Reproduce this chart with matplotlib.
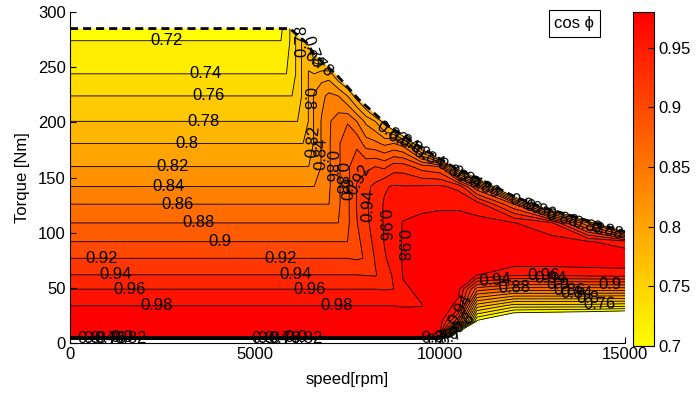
import numpy as np
import matplotlib
matplotlib.use("Agg")
import matplotlib.pyplot as plt
from matplotlib.patches import Polygon
from matplotlib.colors import Normalize
from matplotlib.cm import ScalarMappable

plt.rcParams['font.family'] = ['Liberation Sans', 'DejaVu Sans']

# ---------------- data ----------------
speed_rpm = [0, 5700, 5850, 6000, 6150, 6300, 6450, 6600, 6800, 7000, 7250, 7500, 7750,
             8000, 8250, 8500, 8750, 9000, 9500, 10000, 10500, 11000, 12000, 13000, 14000, 15000]
torque_nm = [0, 3.5, 6, 12, 20, 34, 49, 62, 77, 92, 109, 126, 142, 160, 181, 201, 224, 244, 274, 290]

# cos(phi) map: one row per torque value, one column per speed value
cos_phi = [
    [0.45]*19 + [0.40, 0.30, 0.25, 0.25, 0.25, 0.25, 0.25],
    [0.70]*19 + [0.69, 0.45, 0.35, 0.30, 0.30, 0.30, 0.30],
    [0.985]*19 + [0.95, 0.55, 0.40, 0.38, 0.37, 0.36, 0.35],
    [0.99]*19 + [0.99, 0.73, 0.55, 0.50, 0.49, 0.48, 0.47],
    [0.99]*19 + [0.99, 0.90, 0.695, 0.64, 0.63, 0.62, 0.61],
    [0.98]*17 + [0.979, 0.9795, 0.99, 0.975, 0.79, 0.75, 0.75, 0.75, 0.745],
    [0.96]*15 + [0.959, 0.96, 0.978, 0.983, 0.99, 0.985, 0.89, 0.87, 0.87, 0.87, 0.87],
    [0.94]*13 + [0.939, 0.938, 0.95, 0.963, 0.981, 0.985, 0.99, 0.99, 0.981, 0.965, 0.965, 0.968, 0.97],
    [0.92]*12 + [0.918, 0.921, 0.942, 0.958, 0.968, 0.982, 0.986, 0.99, 0.99, 0.99, 0.995, 0.995, 0.995, 0.995],
    [0.90]*12 + [0.915, 0.928, 0.947, 0.961, 0.971, 0.982, 0.986, 0.99, 0.99, 0.99, 0.99, 0.988, 0.982, 0.97],
    [0.88]*11 + [0.8954, 0.919, 0.935, 0.95, 0.962, 0.9715, 0.981, 0.985, 0.99, 0.99, 0.985, 0.981, 0.965, 0.86, 0.70],
    [0.86]*10 + [0.8763, 0.8954, 0.921, 0.9367, 0.95, 0.962, 0.97, 0.972, 0.975, 0.975, 0.975, 0.972, 0.90, 0.74, 0.60, 0.50],
    [0.84]*8 + [0.8415, 0.8576, 0.8763, 0.8954, 0.921, 0.935, 0.945, 0.958, 0.962, 0.961, 0.962, 0.963, 0.955, 0.88, 0.67, 0.50, 0.50, 0.50],
    [0.82]*7 + [0.823, 0.8415, 0.8576, 0.8763, 0.8954, 0.915, 0.915, 0.92, 0.915, 0.93, 0.93, 0.91, 0.90, 0.77, 0.60, 0.50, 0.50, 0.50, 0.50],
    [0.80]*6 + [0.801, 0.823, 0.8415, 0.8576, 0.8763, 0.8954, 0.895, 0.87, 0.865, 0.855, 0.86, 0.85, 0.76, 0.60, 0.50, 0.50, 0.50, 0.50, 0.50, 0.50],
    [0.78]*5 + [0.785, 0.801, 0.823, 0.8415, 0.8576, 0.87, 0.878, 0.86, 0.835, 0.82, 0.79, 0.76, 0.70, 0.60] + [0.50]*7,
    [0.76]*4 + [0.7667, 0.785, 0.801, 0.823, 0.835, 0.845, 0.84, 0.82, 0.79, 0.76, 0.70, 0.60, 0.60, 0.60] + [0.50]*8,
    [0.74]*3 + [0.7467, 0.7667, 0.785, 0.801, 0.80, 0.81, 0.81, 0.78, 0.76, 0.65, 0.60, 0.60, 0.60, 0.60, 0.60] + [0.50]*8,
    [0.72, 0.72, 0.7295, 0.7467, 0.7667, 0.785, 0.79, 0.74, 0.70, 0.70, 0.60, 0.60, 0.60, 0.60, 0.60, 0.60, 0.60, 0.60] + [0.50]*8,
    [0.705, 0.714, 0.7295, 0.7467, 0.7667, 0.785, 0.78, 0.70, 0.65, 0.60, 0.60, 0.60, 0.60, 0.60, 0.60, 0.60, 0.60, 0.60] + [0.50]*8,
]

# maximum-torque envelope (dashed line)
env_speed = [0, 5950, 6080, 6220, 6400, 6570, 6840, 7210, 7800, 8600, 9500, 10400, 11300,
             12000, 12700, 13500, 14100, 14600, 15000]
env_torque = [285, 285, 281, 277, 272, 263, 254, 243, 221, 197, 177, 159, 145,
              133, 124, 116, 110, 105, 101]

levels = [0.70, 0.72, 0.74, 0.76, 0.78, 0.80, 0.82, 0.84, 0.86, 0.88, 0.90, 0.92, 0.94, 0.96, 0.98]
cbar_ticks = [0.70, 0.75, 0.80, 0.85, 0.90, 0.95]
cbar_range = (0.70, 0.98)

# label anchor points (layout)
label_pts_main = [(2622, 272.8), (3676, 243.9), (3757, 224), (3622, 200.5), (3162, 181.4),
                  (2784, 159.7), (2676, 140.6), (2919, 124.3), (3486, 108), (4054, 91.7),
                  (865, 76.3), (1243, 60.9), (1622, 48.3), (2351, 33.8),
                  (5703, 76.3), (6108, 60.9), (6486, 48.3), (7210, 33.8)]
label_pts_knee = [(6450, 222), (6575, 183), (6800, 172), (7030, 160), (7300, 150),
                  (7560, 140), (7745, 150), (8075, 125), (8455, 107), (8985, 89)]
label_pts_edge = [(6250, 274), (6450, 263), (6700, 252), (8700, 190), (9000, 183),
                  (9300, 178), (9700, 168), (10300, 156), (10700, 149), (11200, 141),
                  (12300, 126), (12700, 121), (13300, 113), (14000, 106), (14500, 101),
                  (12800, 64), (13000, 59), (13200, 54), (13500, 49), (13700, 44),
                  (14000, 40), (14300, 36), (14600, 52), (11500, 58), (12000, 50),
                  (10550, 30), (10650, 18)]
label_pts_bottom = [(500, 4.3), (800, 4.8), (1100, 4.0), (1400, 5.2), (1650, 4.5),
                    (5200, 4.3), (5500, 4.8), (5800, 4.0), (6100, 5.2), (6400, 4.5),
                    (9800, 4.4), (10100, 5.0), (10300, 4.0)]

# ---------------- figure ----------------
fig = plt.figure(figsize=(6.97, 3.96), dpi=100)
ax = fig.add_axes([0.1004, 0.1331, 0.7963, 0.8366])

S, T = np.meshgrid(speed_rpm, torque_nm)
Z = np.array(cos_phi)

cmap = plt.get_cmap('autumn_r')
norm = Normalize(*cbar_range)
band_colors = [cmap(norm(l)) for l in levels]

cf = ax.contourf(S, T, Z, levels=levels + [1.0], colors=band_colors)
cl = ax.contour(S, T, Z, levels=levels, colors='k', linewidths=0.6)

clip = Polygon(list(zip([0] + env_speed + [env_speed[-1]], [0] + env_torque + [0])),
               closed=True, transform=ax.transData, fc='none', ec='none')
cf.set_clip_path(clip)
cl.set_clip_path(clip)

ax.plot(env_speed, env_torque, color='k', lw=2.0, linestyle=(0, (2.9, 1.8)))

fmt = lambda v: f"{round(v, 2):g}"
pts = label_pts_main + label_pts_knee + label_pts_edge + label_pts_bottom
ax.clabel(cl, manual=pts, inline=False, fontsize=12, fmt=fmt, colors='k')

ax.set_xlim(0, 15000)
ax.set_ylim(0, 300)
ax.set_xticks([0, 5000, 10000, 15000])
ax.set_yticks([0, 50, 100, 150, 200, 250, 300])
ax.tick_params(direction='in', length=4, labelsize=12, top=False, right=False, pad=3)
ax.spines['top'].set_visible(False)
ax.spines['right'].set_visible(False)
for sp in ('left', 'bottom'):
    ax.spines[sp].set_linewidth(0.8)
ax.set_xlabel('speed[rpm]', fontsize=12, labelpad=7)
ax.set_ylabel('Torque [Nm]', fontsize=12, labelpad=6)

cax = fig.add_axes([0.908, 0.126, 0.030, 0.844])
cb = fig.colorbar(ScalarMappable(norm=norm, cmap=cmap), cax=cax)
cb.set_ticks(cbar_ticks)
cb.set_ticklabels([fmt(v) for v in cbar_ticks])
cb.ax.tick_params(direction='in', length=4, labelsize=12)
cb.outline.set_linewidth(0.8)

fig.text(0.824, 0.941, 'cos ϕ', ha='center', va='center', fontsize=12,
         bbox=dict(boxstyle='square,pad=0.35', fc='white', ec='black', lw=0.8))

fig.savefig('out.png', dpi=100)
